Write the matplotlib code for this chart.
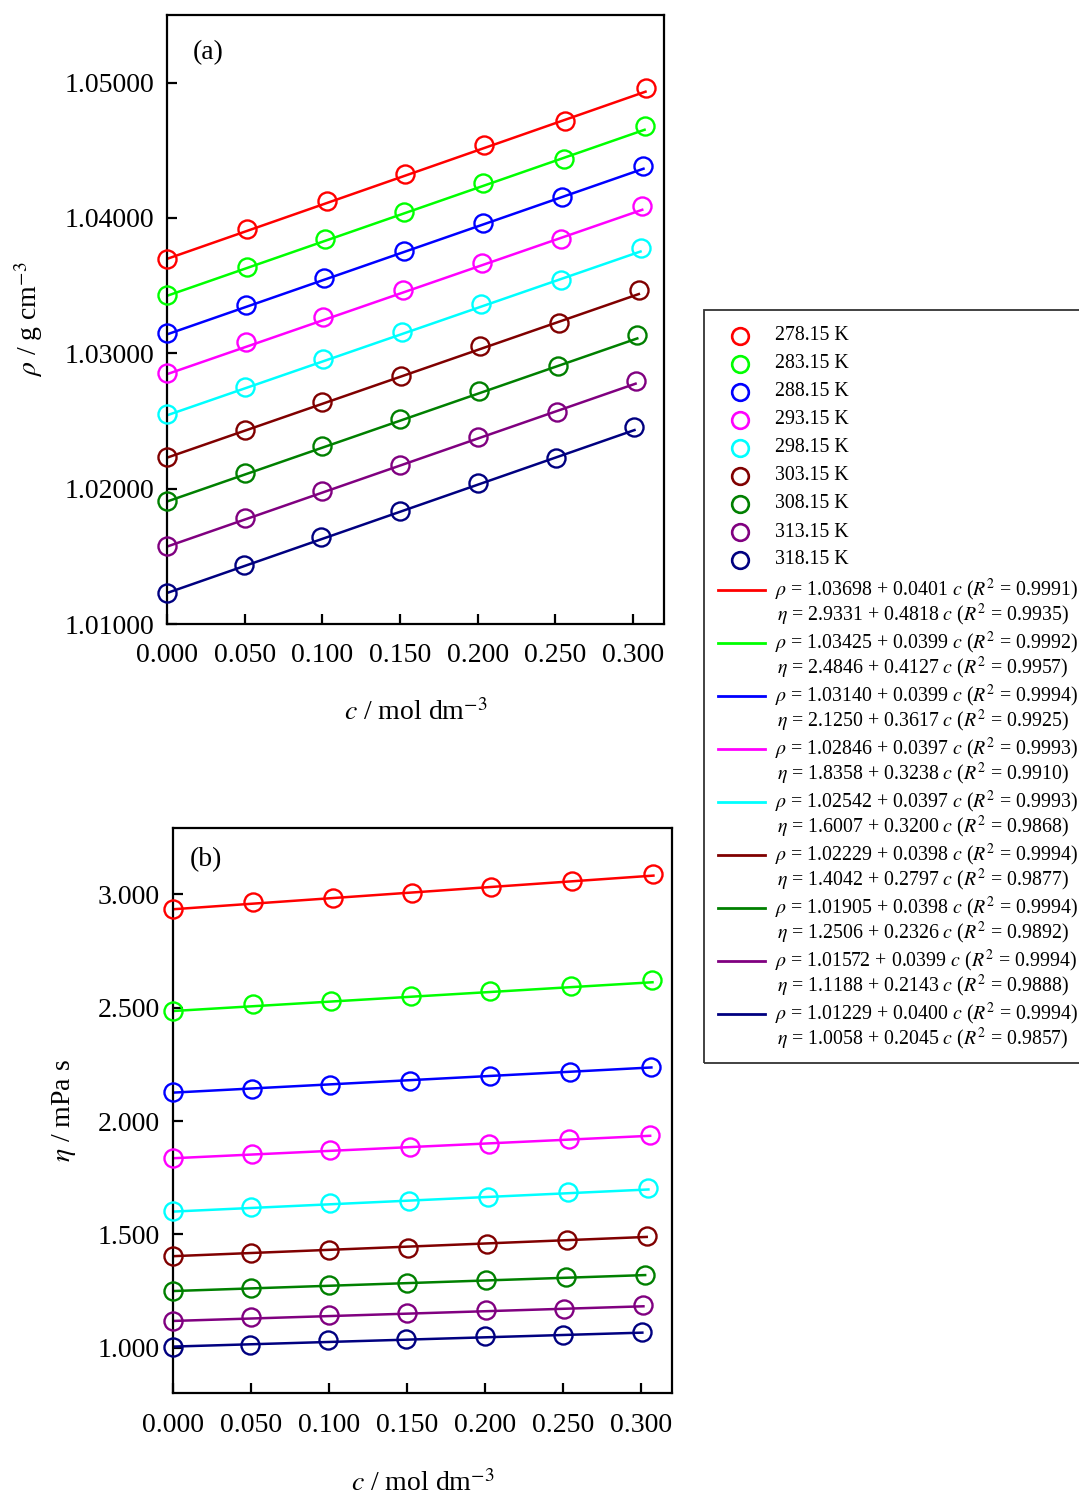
import numpy as np
import matplotlib
matplotlib.use('Agg')
import matplotlib.pyplot as plt
from matplotlib.lines import Line2D
from matplotlib.patches import Rectangle

plt.rcParams['font.family'] = ['Liberation Serif', 'DejaVu Serif']
plt.rcParams['mathtext.fontset'] = 'stix'

temps = ['278.15 K', '283.15 K', '288.15 K', '293.15 K', '298.15 K',
         '303.15 K', '308.15 K', '313.15 K', '318.15 K']
colors = ['#ff0000', '#00ff00', '#0000ff', '#ff00ff', '#00ffff',
          '#800000', '#008000', '#800080', '#000080']

# concentration c / mol dm-3 for each temperature
c_vals = [
    [0, 0.0512, 0.1027, 0.1534, 0.2043, 0.2561, 0.3081],
    [0, 0.0512, 0.1016, 0.1528, 0.2037, 0.2555, 0.3075],
    [0, 0.0507, 0.1010, 0.1524, 0.2033, 0.2546, 0.3068],
    [0, 0.0507, 0.1006, 0.1520, 0.2027, 0.2540, 0.3060],
    [0, 0.0503, 0.1006, 0.1513, 0.2022, 0.2535, 0.3049],
    [0, 0.0501, 0.1000, 0.1507, 0.2015, 0.2525, 0.3038],
    [0, 0.0501, 0.1000, 0.1502, 0.2009, 0.2518, 0.3028],
    [0, 0.0501, 0.1000, 0.1502, 0.2005, 0.2508, 0.3017],
    [0, 0.0496, 0.0993, 0.1498, 0.2000, 0.2502, 0.3010],
]

# density rho / g cm-3
rho = [
    [1.03700, 1.03917, 1.04124, 1.04322, 1.04537, 1.04717, 1.04961],
    [1.03434, 1.03639, 1.03843, 1.04045, 1.04260, 1.04435, 1.04680],
    [1.03150, 1.03355, 1.03560, 1.03756, 1.03964, 1.04152, 1.04386],
    [1.02853, 1.03083, 1.03268, 1.03466, 1.03671, 1.03843, 1.04090],
    [1.02553, 1.02750, 1.02955, 1.03157, 1.03367, 1.03540, 1.03782],
    [1.02232, 1.02437, 1.02644, 1.02836, 1.03051, 1.03227, 1.03466],
    [1.01911, 1.02116, 1.02318, 1.02516, 1.02720, 1.02903, 1.03133],
    [1.01578, 1.01780, 1.01985, 1.02178, 1.02385, 1.02570, 1.02799],
    [1.01232, 1.01435, 1.01640, 1.01835, 1.02042, 1.02224, 1.02459],
]

# viscosity eta / mPa s
eta = [
    [2.933, 2.965, 2.984, 3.006, 3.032, 3.058, 3.088],
    [2.485, 2.515, 2.530, 2.552, 2.571, 2.594, 2.620],
    [2.130, 2.143, 2.160, 2.178, 2.200, 2.215, 2.240],
    [1.838, 1.854, 1.872, 1.884, 1.899, 1.921, 1.940],
    [1.604, 1.623, 1.638, 1.649, 1.665, 1.687, 1.703],
    [1.405, 1.420, 1.430, 1.439, 1.457, 1.475, 1.493],
    [1.250, 1.265, 1.278, 1.286, 1.301, 1.313, 1.320],
    [1.118, 1.136, 1.143, 1.155, 1.166, 1.173, 1.188],
    [1.006, 1.015, 1.033, 1.039, 1.051, 1.058, 1.070],
]

# linear fits from the legend: intercept, slope, R^2
rho_a = [1.03698, 1.03425, 1.03140, 1.02846, 1.02542, 1.02229, 1.01905, 1.01572, 1.01229]
rho_b = [0.0401, 0.0399, 0.0399, 0.0397, 0.0397, 0.0398, 0.0398, 0.0399, 0.0400]
rho_r2 = ['0.9991', '0.9992', '0.9994', '0.9993', '0.9993', '0.9994', '0.9994', '0.9994', '0.9994']
eta_a = [2.9331, 2.4846, 2.1250, 1.8358, 1.6007, 1.4042, 1.2506, 1.1188, 1.0058]
eta_b = [0.4818, 0.4127, 0.3617, 0.3238, 0.3200, 0.2797, 0.2326, 0.2143, 0.2045]
eta_r2 = ['0.9935', '0.9957', '0.9925', '0.9910', '0.9868', '0.9877', '0.9892', '0.9888', '0.9857']

W, H = 1079, 1497
fig = plt.figure(figsize=(W / 100, H / 100), dpi=100)
ax1 = fig.add_axes([167 / W, 1 - 624 / H, 497 / W, 609 / H])
ax2 = fig.add_axes([172.6 / W, 1 - 1393.3 / H, 499.4 / W, 565 / H])

ms, mew, lw = 13, 1.7, 1.8
for i in range(len(temps)):
    c = np.array(c_vals[i])
    cc = np.array([0, c.max()])
    ax1.plot(cc, rho_a[i] + rho_b[i] * cc, color=colors[i], lw=lw, zorder=2)
    ax1.plot(c, rho[i], 'o', mfc='none', mec=colors[i], ms=ms, mew=mew, zorder=3, clip_on=False)
    ax2.plot(cc, eta_a[i] + eta_b[i] * cc, color=colors[i], lw=lw, zorder=2)
    ax2.plot(c, eta[i], 'o', mfc='none', mec=colors[i], ms=ms, mew=mew, zorder=3, clip_on=False)

xt = [0, 0.05, 0.10, 0.15, 0.20, 0.25, 0.30]
for ax in (ax1, ax2):
    ax.set_xlim(0, 0.32)
    ax.set_xticks(xt)
    ax.set_xticklabels(['%.3f' % v for v in xt])
    for s in ax.spines.values():
        s.set_linewidth(1.6)
    ax.tick_params(direction='in', length=7, width=1.6, labelsize=20, top=False, right=False)
    ax.tick_params(axis='x', pad=14)
    ax.tick_params(axis='y', pad=9)

ax1.set_ylim(1.01, 1.055)
yt1 = [1.01, 1.02, 1.03, 1.04, 1.05]
ax1.set_yticks(yt1)
ax1.set_yticklabels(['%.5f' % v for v in yt1])
ax2.set_ylim(0.8, 3.29)
yt2 = [1.0, 1.5, 2.0, 2.5, 3.0]
ax2.set_yticks(yt2)
ax2.set_yticklabels(['%.3f' % v for v in yt2])

ax1.set_ylabel(r'$\rho$ / g cm$^{-3}$', fontsize=20)
ax1.yaxis.set_label_coords(-0.245, 0.5)
ax1.set_xlabel(r'$c$ / mol dm$^{-3}$', fontsize=20)
ax1.xaxis.set_label_coords(0.5, -0.124)
ax2.set_ylabel(r'$\eta$ / mPa s', fontsize=20)
ax2.yaxis.set_label_coords(-0.19, 0.5)
ax2.set_xlabel(r'$c$ / mol dm$^{-3}$', fontsize=20)
ax2.xaxis.set_label_coords(0.5, -0.136)

ax1.text(0.052, 0.9376, '(a)', transform=ax1.transAxes, fontsize=20, va='center', ha='left')
ax2.text(0.035, 0.944, '(b)', transform=ax2.transAxes, fontsize=20, va='center', ha='left')

# legend box drawn by hand in figure pixels
def fx(px):
    return px / W

def fy(py):
    return 1 - py / H

fig.add_artist(Rectangle((fx(704), fy(1063)), fx(400), (1063 - 310) / H, transform=fig.transFigure,
                         fill=False, edgecolor='#333333', lw=1.3, clip_on=False))
fs = 14.3
for i in range(len(temps)):
    y = 336 + 28 * i
    fig.add_artist(Line2D([fx(740)], [fy(y)], transform=fig.transFigure, ls='none', marker='o',
                          mfc='none', mec=colors[i], ms=12, mew=1.9))
    fig.text(fx(775), fy(y), temps[i], fontsize=fs, va='center', ha='left')
for i in range(len(temps)):
    y = 590 + 53 * i
    fig.add_artist(Line2D([fx(718), fx(765)], [fy(y), fy(y)], transform=fig.transFigure,
                          color=colors[i], lw=2))
    fig.text(fx(775), fy(y), r'$\rho$ = %.5f + %.4f $c$ ($R^2$ = %s)' % (rho_a[i], rho_b[i], rho_r2[i]),
             fontsize=fs, va='center', ha='left')
    fig.text(fx(777), fy(y + 25), r'$\eta$ = %.4f + %.4f $c$ ($R^2$ = %s)' % (eta_a[i], eta_b[i], eta_r2[i]),
             fontsize=fs, va='center', ha='left')

fig.savefig('out.png', dpi=100)
